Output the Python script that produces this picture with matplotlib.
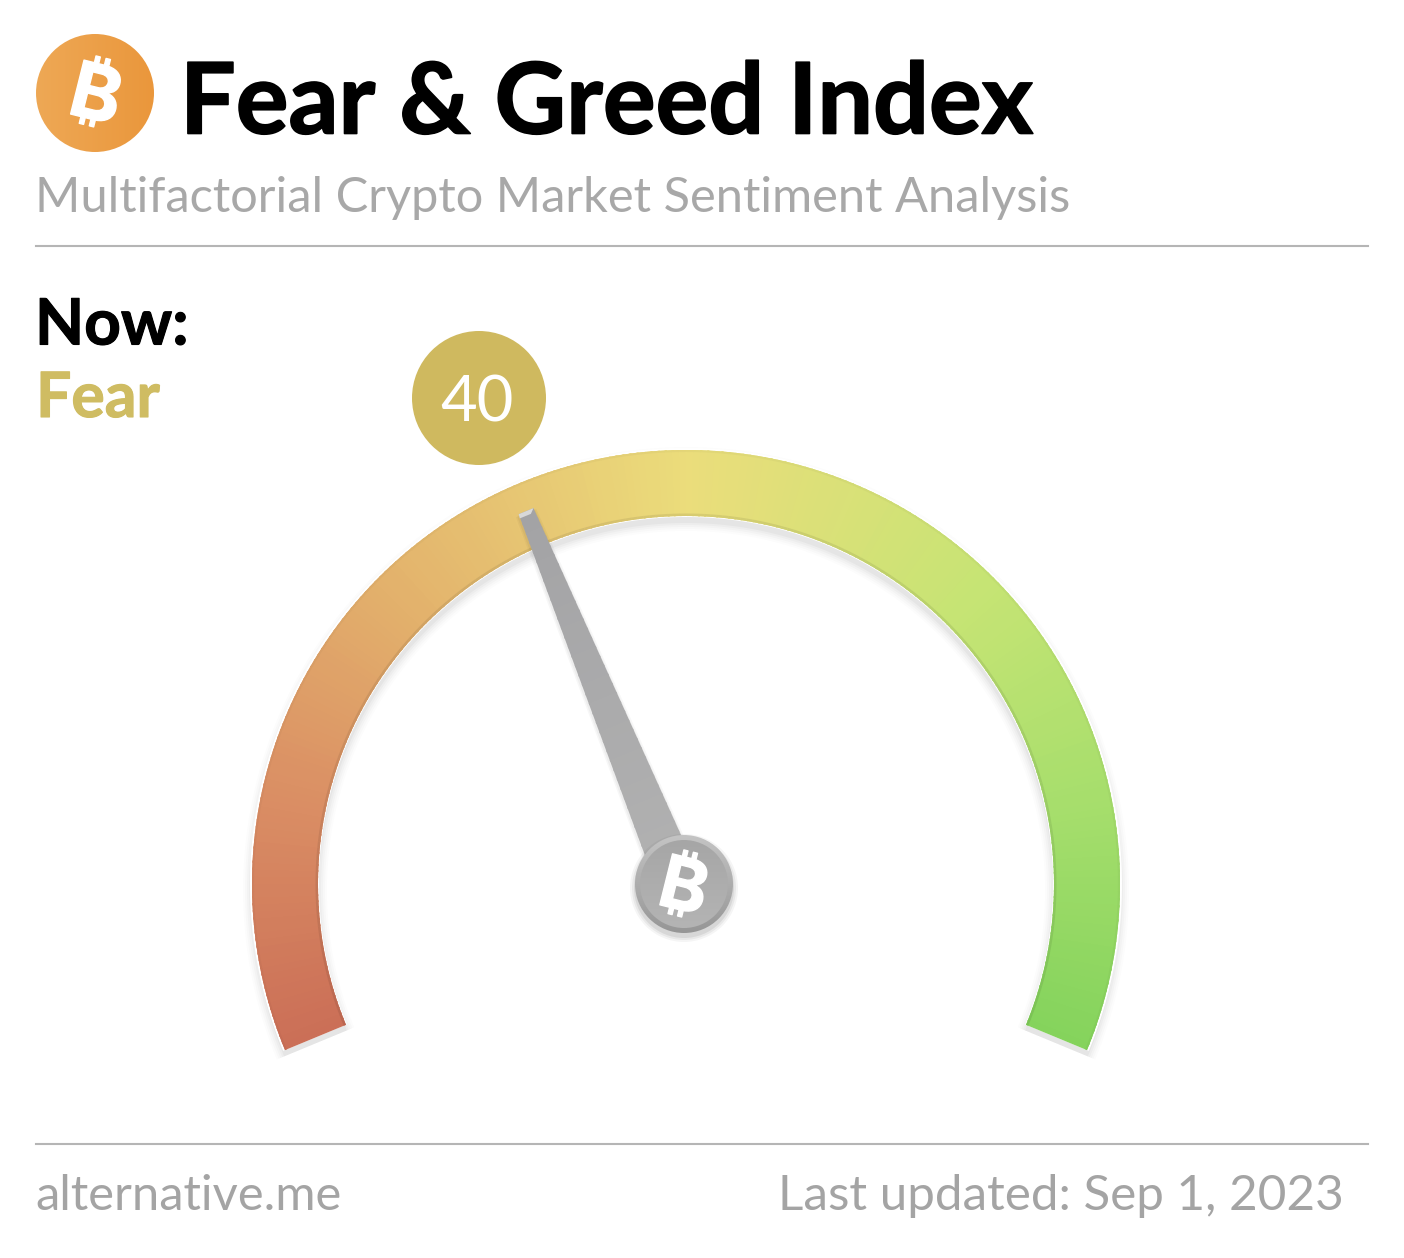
import numpy as np
import matplotlib
matplotlib.use("Agg")
import matplotlib.pyplot as plt
import matplotlib.patheffects as pe
from matplotlib.patches import Circle, Polygon
from matplotlib.colors import LinearSegmentedColormap, to_rgb

W, H = 1404, 1258
title = "Fear & Greed Index"
subtitle = "Multifactorial Crypto Market Sentiment Analysis"
now_label = "Now:"
state_label = "Fear"
value = 40
site = "alternative.me"
updated = "Last updated: Sep 1, 2023"
coin = "₿"
gauge_min, gauge_max = 0, 100
gauge_stops = [0, 15, 30, 50, 70, 85, 100]
gauge_colors = ["#cb6f57", "#da8e64", "#e3b26c", "#ebdd7b", "#c6e474", "#a6de6c", "#84d35c"]

plt.rcParams['font.family'] = ['Lato', 'DejaVu Sans']
fig = plt.figure(figsize=(W/100, H/100), dpi=100, facecolor="white")
ax = fig.add_axes([0, 0, 1, 1])
ax.set_xlim(0, W); ax.set_ylim(H, 0); ax.axis("off")

cx, cy = 686, 884
r_out, r_in = 434, 368
a_start, a_end = 202.5, -22.5  # angle at value 0 and value 100

def angle(v):
    return a_start + (a_end - a_start) * (v - gauge_min) / (gauge_max - gauge_min)

def pt(r, a):
    return cx + r*np.cos(np.radians(a)), cy - r*np.sin(np.radians(a))

def gradient_disc(x, y, r, c0, c1, horizontal, z):
    g = np.linspace(0, 1, 64)
    g = g[None, :] if horizontal else g[:, None]
    cm = LinearSegmentedColormap.from_list("d", [c0, c1])
    im = ax.imshow(g, cmap=cm, extent=(x-r, x+r, y+r, y-r), aspect="auto", zorder=z)
    disc = Circle((x, y), r, transform=ax.transData, fc="none", ec="none")
    ax.add_patch(disc)
    im.set_clip_path(disc)

cmap = LinearSegmentedColormap.from_list("g", [((s-gauge_min)/(gauge_max-gauge_min), c) for s, c in zip(gauge_stops, gauge_colors)])
steps = 240
ts = np.linspace(a_start, a_end, 240)
# soft shadow under the arc
for k, al in ((9, .012), (7, .015), (5, .02), (3, .025), (1, .03)):
    xo = [pt(r_out+k, t) for t in ts]
    xi = [pt(r_in-k, t) for t in ts[::-1]]
    ax.add_patch(Polygon([(x, y+6) for x, y in xo+xi], closed=True, fc="black", ec="none", alpha=al))
# thin white rim
ax.add_patch(Polygon([pt(r_out+2, t) for t in ts]+[pt(r_in-1, t) for t in ts[::-1]], closed=True, fc="white", ec="none"))
for i in range(steps):
    v0 = gauge_min + (gauge_max-gauge_min)*i/steps
    v1 = gauge_min + (gauge_max-gauge_min)*(i+1.3)/steps
    seg = np.linspace(angle(v0), angle(min(v1, gauge_max)), 4)
    c = np.array(cmap((v0-gauge_min)/(gauge_max-gauge_min))[:3])
    poly = [pt(r_out, t) for t in seg] + [pt(r_in, t) for t in seg[::-1]]
    ax.add_patch(Polygon(poly, closed=True, fc=c, ec="none"))
    # darker rim on the inner edge, slightly lighter on the outer edge
    inner = [pt(r_in+2.5, t) for t in seg] + [pt(r_in, t) for t in seg[::-1]]
    ax.add_patch(Polygon(inner, closed=True, fc=c*0.92, ec="none"))
    outer = [pt(r_out, t) for t in seg] + [pt(r_out-2, t) for t in seg[::-1]]
    ax.add_patch(Polygon(outer, closed=True, fc=c*0.97, ec="none"))

# needle
hub_x = cx - 2
pivot_x = cx - 7
a = angle(value) - 0.2
tx, ty = pivot_x + 403*np.cos(np.radians(a)), cy - 403*np.sin(np.radians(a))
nx, ny = np.sin(np.radians(a)), np.cos(np.radians(a))
tip_hw, base_hw = 8, 22
for k, al in ((3, .03), (1.5, .04)):
    ax.add_patch(Polygon([(tx-nx*(tip_hw+k), ty-ny*(tip_hw+k)+2), (tx+nx*(tip_hw+k), ty+ny*(tip_hw+k)+2),
                          (pivot_x+nx*(base_hw+k), cy+ny*(base_hw+k)+2), (pivot_x-nx*(base_hw+k), cy-ny*(base_hw+k)+2)],
                         closed=True, fc="black", ec="none", alpha=al, zorder=2.9))
n_seg = 40
c_top, c_bot = np.array(to_rgb("#a3a3a5")), np.array(to_rgb("#b2b2b2"))
for i in range(n_seg):
    f0, f1 = i/n_seg, min(1, (i+1.2)/n_seg)
    h0, h1 = tip_hw+(base_hw-tip_hw)*f0, tip_hw+(base_hw-tip_hw)*f1
    p0 = (tx+(pivot_x-tx)*f0, ty+(cy-ty)*f0); p1 = (tx+(pivot_x-tx)*f1, ty+(cy-ty)*f1)
    ax.add_patch(Polygon([(p0[0]-nx*h0, p0[1]-ny*h0), (p0[0]+nx*h0, p0[1]+ny*h0),
                          (p1[0]+nx*h1, p1[1]+ny*h1), (p1[0]-nx*h1, p1[1]-ny*h1)],
                         closed=True, fc=c_top+(c_bot-c_top)*f0, ec="none", zorder=3))
# lighter cap at the needle tip
cap = 5
ax.add_patch(Polygon([(tx-nx*tip_hw, ty-ny*tip_hw), (tx+nx*tip_hw, ty+ny*tip_hw),
                      (tx+nx*6+ny*cap*0.4, ty+ny*6+cap), (tx-nx*6+ny*cap*0.4, ty-ny*6+cap)],
             closed=True, fc="#d8d8d8", ec="none", zorder=3.1))
# hub
for k, al in ((5, .04), (3, .05), (1, .07)):
    ax.add_patch(Circle((hub_x, cy+4), 49+k, fc="black", alpha=al, ec="none", zorder=3.5))
gradient_disc(hub_x, cy, 49, "#c4c4c4", "#969696", False, 4)
gradient_disc(hub_x, cy, 44, "#a6a6a6", "#b4b4b4", False, 4.1)
ax.text(hub_x-1, cy+7, coin, color="white", fontsize=52, ha="center", va="center", rotation=-14, family=["Inter", "Noto Sans"], weight="bold", zorder=5,
        path_effects=[pe.withStroke(linewidth=1, foreground="white")])

# header
gradient_disc(95, 93, 59, "#eea855", "#ea973c", True, 1)
ax.text(95, 100, coin, color="white", fontsize=55, ha="center", va="center", rotation=-14, family=["Inter", "Noto Sans"], weight="bold", zorder=2,
        path_effects=[pe.withStroke(linewidth=1, foreground="white")])
ax.text(180, 105, title, fontsize=71, weight="bold", color="black", ha="left", va="center",
        path_effects=[pe.withStroke(linewidth=1.2, foreground="black")])
ax.text(35, 198, subtitle, fontsize=35.15, color="#a8a8a8", ha="left", va="center")
ax.plot([36, 1368], [246, 246], color="#b5b5b5", lw=1.5)
ax.text(35, 326, now_label, fontsize=46, weight="bold", color="black", ha="left", va="center",
        path_effects=[pe.withStroke(linewidth=0.8, foreground="black")])
ax.text(36, 399, state_label, fontsize=45, weight="bold", color="#cfbc62", ha="left", va="center",
        path_effects=[pe.withStroke(linewidth=0.8, foreground="#cfbc62")])

# value badge
ax.add_patch(Circle((479, 398), 67, fc="#cfb95f", ec="none"))
ax.text(477, 403, str(value), fontsize=45.5, color="white", ha="center", va="center")

# footer
ax.plot([36, 1368], [1144, 1144], color="#b5b5b5", lw=1.5)
ax.text(35, 1196, site, fontsize=35.2, color="#a4a4a4", ha="left", va="center")
ax.text(1344, 1196, updated, fontsize=35.6, color="#a4a4a4", ha="right", va="center")

ax.set_xlim(0, W); ax.set_ylim(H, 0)
fig.savefig("out.png", dpi=100, facecolor="white")
